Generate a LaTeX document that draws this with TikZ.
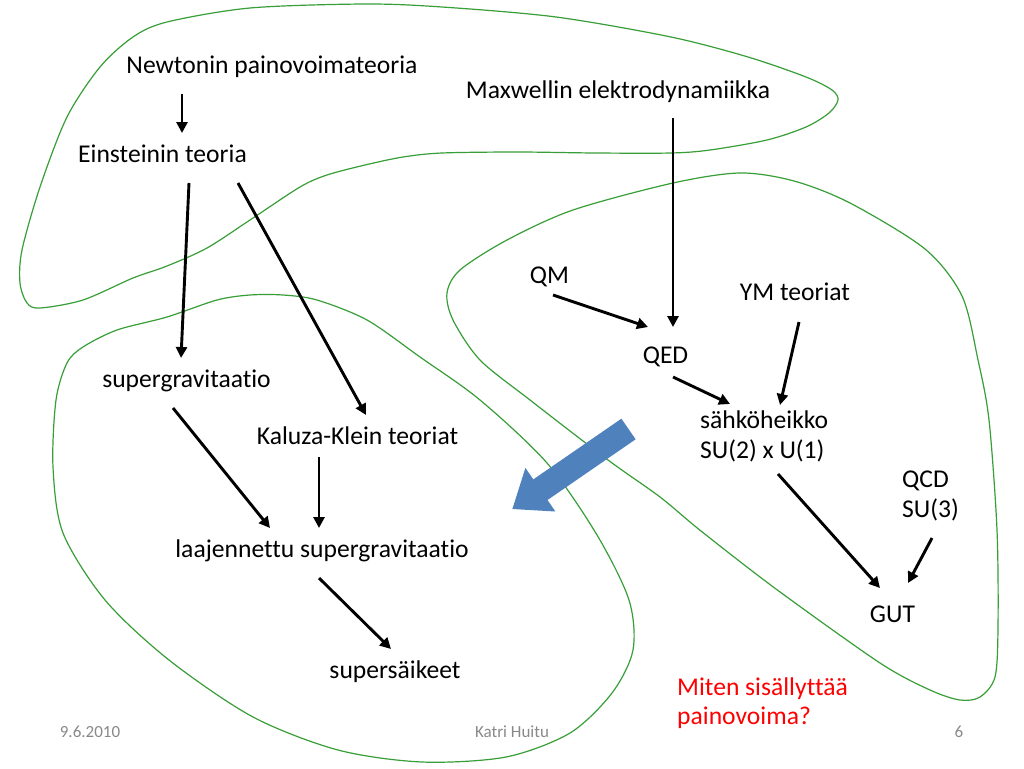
\documentclass[tikz,border=0pt]{standalone}
\usepackage{fontspec}
\setmainfont[Ligatures=NoCommon]{Carlito}
\usetikzlibrary{arrows.meta}
\definecolor{blobgreen}{RGB}{56,158,56}
\definecolor{bigblue}{RGB}{79,129,189}
\definecolor{footgray}{RGB}{137,137,137}
\tikzset{
  lbl/.style={inner sep=0pt, anchor=base, font=\fontsize{25.6}{30}\selectfont},
  mlbl/.style={inner sep=0pt, anchor=base west, font=\fontsize{25.6}{30}\selectfont},
  foot/.style={inner sep=0pt, anchor=base, text=footgray, font=\fontsize{17}{20}\selectfont},
  arr/.style={line width=2.9pt, -{Triangle[length=11pt,width=11pt]}},
  blob/.style={blobgreen, line width=1.2pt},
}
\begin{document}
\begin{tikzpicture}[x=1pt,y=-1pt]
\useasboundingbox[fill=white] (0,0) rectangle (1024,768);

% green regions
\draw[blob] plot[smooth cycle, tension=0.5] coordinates {
 (20,283) (22,250) (40,187) (67,117) (100,67) (133,37) (167,22) (250,8) (365,4) (442,7)
 (556,17) (671,37) (748,57) (806,77) (832,90) (838,100) (829,113) (806,127) (767,140)
 (710,150) (671,153) (595,153) (518,152) (442,153) (403,157) (365,165) (327,175)
 (300,187) (250,220) (207,248) (167,266) (133,278) (83,300) (40,308) (27,303)};

\draw[blob] plot[smooth cycle, tension=0.5] coordinates {
 (740,173) (794,181) (850,203) (925,249) (962,296) (978,360) (989,420) (997,530)
 (998,627) (995,677) (980,697) (960,700) (930,690) (880,663) (776,589) (701,531)
 (660,497) (608,460) (530,400) (480,360) (453,320) (447,293) (460,270) (507,240)
 (573,210) (673,183)};

\draw[blob] plot[smooth cycle, tension=0.5] coordinates {
 (250,295) (283,295) (317,300) (367,320) (420,357) (480,400) (547,463) (597,535)
 (629,600) (633,650) (612,693) (570,733) (506,757) (422,762) (338,750) (253,717)
 (169,660) (105,600) (63,533) (53,467) (56,400) (67,363) (83,347) (117,330)
 (167,317) (217,300)};

% big blue arrow
\fill[bigblue] (621.4,418.7) -- (635.6,439.3) -- (547.5,500) -- (555.4,511.5)
  -- (512.4,509) -- (525.4,467.9) -- (533.3,479.4) -- cycle;

% texts
\node[lbl] (newton) at (272,74) {Newtonin painovoimateoria};
\node[lbl] (maxwell) at (618,98) {Maxwellin elektrodynamiikka};
\node[lbl] (einstein) at (162.5,162) {Einsteinin teoria};
\node[lbl] (qm) at (549.5,283) {QM};
\node[lbl] (ym) at (795,300) {YM teoriat};
\node[lbl] (qed) at (665.5,363) {QED};
\node[lbl] (sugra) at (186.5,387) {supergravitaatio};
\node[mlbl] (weak) at (700,428) {\begin{tabular}[t]{@{}l@{}}sähköheikko\\SU(2) x U(1)\end{tabular}};
\node[lbl] (kk) at (357.5,444) {Kaluza-Klein teoriat};
\node[mlbl] (qcd) at (902,487) {\begin{tabular}[t]{@{}l@{}}QCD\\SU(3)\end{tabular}};
\node[lbl] (laaj) at (322,557) {laajennettu supergravitaatio};
\node[lbl] (gut) at (892.5,622) {GUT};
\node[lbl] (super) at (395,678) {supersäikeet};
\node[mlbl, text=red, font=\fontsize{25.6}{29}\selectfont] (q) at (677,695)
  {\begin{tabular}[t]{@{}l@{}}Miten sisällyttää\\painovoima?\end{tabular}};

\node[foot] (date) at (90,737) {9.6.2010};
\node[foot] (author) at (512,737) {Katri Huitu};
\node[foot] (page) at (959,737) {6};

% arrows
\draw[arr] ([shift={(-90,20)}]newton.base) -- ([shift={(19.5,-29)}]einstein.base);
\draw[arr] ([shift={(55,20)}]maxwell.base) -- ([shift={(7.5,-36)}]qed.base);
\draw[arr] ([shift={(26.5,21)}]einstein.base) -- ([shift={(-5.5,-29)}]sugra.base);
\draw[arr] ([shift={(75.5,21)}]einstein.base) -- ([shift={(8.5,-29)}]kk.base);
\draw[arr] ([shift={(3.5,12)}]qm.base) -- ([shift={(-17.5,-36)}]qed.base);
\draw[arr] ([shift={(4,22)}]ym.base) -- ([shift={(80,-23)}]weak.base west);
\draw[arr] ([shift={(7.5,14)}]qed.base) -- ([shift={(30,-24)}]weak.base west);
\draw[arr] ([shift={(78,46)}]weak.base west) -- ([shift={(-12.5,-34)}]gut.base);
\draw[arr] ([shift={(30,51)}]qcd.base west) -- ([shift={(15.5,-39)}]gut.base);
\draw[arr] ([shift={(-13.5,21)}]sugra.base) -- ([shift={(-52,-29)}]laaj.base);
\draw[arr] ([shift={(-38.5,13)}]kk.base) -- ([shift={(-3,-29)}]laaj.base);
\draw[arr] ([shift={(-3,21)}]laaj.base) -- ([shift={(-4,-29)}]super.base);
\end{tikzpicture}
\end{document}
